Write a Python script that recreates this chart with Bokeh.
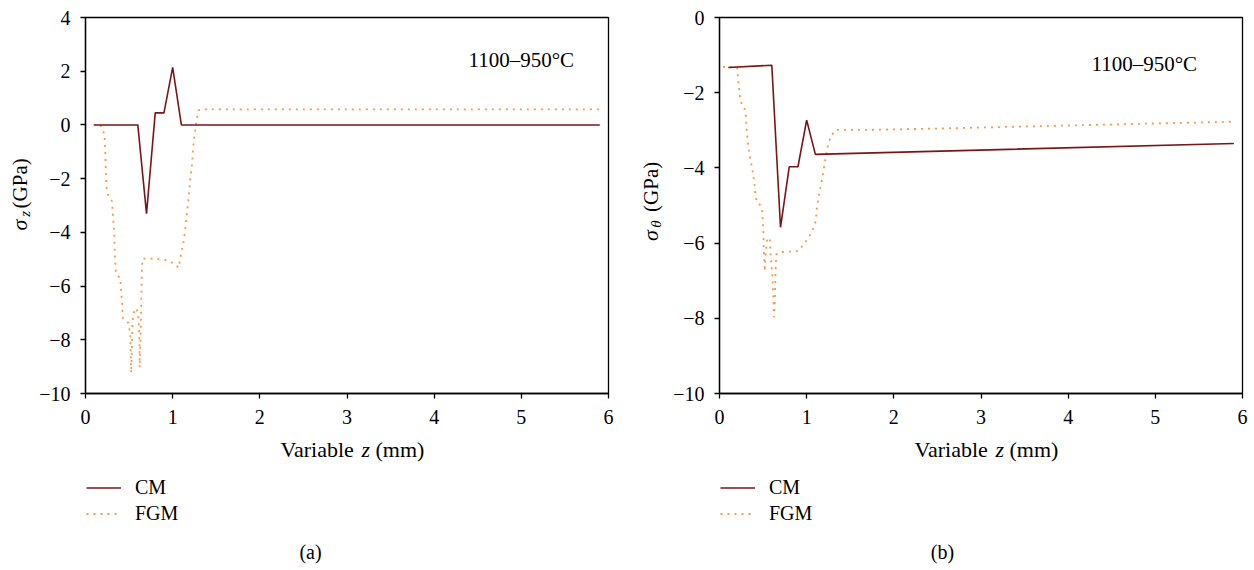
import math
import numpy as np
from bokeh.plotting import figure
from bokeh.layouts import row, column
from bokeh.models import Label, Legend, LegendItem, FixedTicker, Range1d
from bokeh.embed import file_html
from bokeh.resources import INLINE

# ---------------- data ----------------
# Panel (a): sigma_z
cm_a_x = [0.1, 0.6, 0.7, 0.8, 0.9, 1.0, 1.1, 5.9]
cm_a_y = [0.0, 0.0, -3.3, 0.45, 0.45, 2.14, 0.0, 0.0]

fgm_a_x = [0.09, 0.17, 0.218, 0.226, 0.234, 0.241, 0.264, 0.303, 0.314, 0.330, 0.337, 0.345,
           0.352, 0.398, 0.410, 0.421, 0.429, 0.494, 0.513, 0.521, 0.525, 0.540, 0.552,
           0.579, 0.602, 0.609, 0.617, 0.621, 0.621, 0.632, 0.640, 0.648, 0.655, 0.80,
           0.954, 1.031, 1.069, 1.088, 1.126, 1.146, 1.165, 1.184, 1.203, 1.222, 1.241,
           1.261, 1.280, 1.299, 1.356, 5.9]
fgm_a_y = [0.0, 0.0, -0.35, -0.91, -1.84, -2.34, -2.65, -2.84, -3.33, -4.08, -4.83, -5.32,
           -5.55, -5.70, -6.19, -6.69, -7.19, -7.38, -7.81, -8.81, -9.24, -7.31, -7.00,
           -6.82, -7.00, -7.31, -7.81, -8.56, -9.03, -7.81, -6.57, -5.32, -4.98, -4.98,
           -5.05, -5.20, -5.32, -4.95, -4.33, -3.83, -3.21, -2.71, -1.97, -1.47, -0.60,
           -0.16, 0.27, 0.55, 0.58, 0.58]

# Panel (b): sigma_theta
cm_b_x = [0.1, 0.6, 0.7, 0.8, 0.9, 1.0, 1.1, 5.9]
cm_b_y = [-1.33, -1.27, -5.58, -3.97, -3.97, -2.73, -3.64, -3.35]

fgm_b_x = [0.04, 0.203, 0.214, 0.230, 0.241, 0.268, 0.298, 0.310, 0.325, 0.344, 0.375,
           0.398, 0.413, 0.425, 0.471, 0.490, 0.502, 0.509, 0.520, 0.528, 0.547, 0.578,
           0.586, 0.605, 0.620, 0.624, 0.635, 0.643, 0.651, 0.682, 0.873, 0.911, 0.988,
           1.064, 1.103, 1.122, 1.148, 1.179, 1.210, 1.236, 1.275, 1.332, 1.677, 2.366, 5.9]
fgm_b_y = [-1.31, -1.33, -1.66, -2.02, -2.21, -2.37, -2.46, -2.95, -3.30, -3.65, -4.01,
           -4.36, -4.72, -4.89, -5.00, -5.16, -5.60, -6.31, -6.75, -6.31, -5.88, -5.87,
           -6.31, -6.84, -7.55, -7.97, -7.55, -6.75, -6.31, -6.24, -6.22, -6.20, -5.96,
           -5.69, -5.42, -4.98, -4.63, -4.27, -3.83, -3.48, -3.17, -2.99, -2.99, -2.96, -2.77]

x_ticks = [0, 1, 2, 3, 4, 5, 6]
y_ticks_a = [4, 2, 0, -2, -4, -6, -8, -10]
y_ticks_b = [0, -2, -4, -6, -8, -10]

series_names = ["CM", "FGM"]
annotation_text = "1100\u2013950\u00b0C"
captions = ["(a)", "(b)"]

# ---------------- style ----------------
FONT = "Liberation Serif"
CM_COLOR = "#7b1416"
FGM_COLOR = "#f49a4e"
FGM_DASH = "2 5"

MAIN_H = 433          # height of the plotting figure
BOTTOM_H = 137        # height of the strip below (x label, legend, caption)
FRAME_W, FRAME_H = 523, 376


def minus(s):
    return s.replace("-", "\u2212")


def lab(**kw):
    base = dict(text_font=FONT, text_color="black", text_baseline="middle",
                text_align="left")
    base.update(kw)
    return Label(**base)


def blank(w, h):
    f = figure(width=w, height=h, x_range=Range1d(0, w), y_range=Range1d(0, h),
               x_axis_location=None, y_axis_location=None, title=None,
               output_backend="svg", toolbar_location=None,
               min_border=0)
    f.grid.visible = False
    f.outline_line_color = None
    f.background_fill_color = "white"
    f.border_fill_color = "white"
    return f


def main_fig(cx, cy, fx, fy, yrange, yticks, ann_x, ann_y):
    p = figure(frame_width=FRAME_W, frame_height=FRAME_H, x_range=(0, 6), y_range=yrange,
               output_backend="svg", toolbar_location=None,
               min_border_left=47, min_border_right=10, min_border_top=17,
               min_border_bottom=MAIN_H - 17 - FRAME_H)
    p.background_fill_color = "white"
    p.border_fill_color = "white"
    p.grid.visible = False
    p.outline_line_color = "black"
    p.outline_line_width = 1.3

    for ax in (p.xaxis[0], p.yaxis[0]):
        ax.axis_line_width = 1.3
        ax.major_tick_line_width = 1.3
        ax.major_tick_in = 0
        ax.major_tick_out = 5
        ax.minor_tick_out = 0
        ax.minor_tick_in = 0
        ax.major_label_text_font = FONT
        ax.major_label_text_font_size = "20px"
        ax.major_label_text_color = "black"
    p.xaxis.ticker = FixedTicker(ticks=x_ticks)
    p.yaxis.ticker = FixedTicker(ticks=yticks)
    p.yaxis.major_label_overrides = {t: minus(str(t)) for t in yticks}
    p.xaxis.major_label_standoff = 11
    p.yaxis.major_label_standoff = 10

    p.line(fx, fy, line_color=FGM_COLOR, line_width=1.8, line_dash=FGM_DASH)
    p.line(cx, cy, line_color=CM_COLOR, line_width=1.6)

    p.add_layout(lab(x=ann_x, y=ann_y, x_units="screen", y_units="screen",
                     text=annotation_text, text_font_size="21px"))
    return p


def ylabel_fig(w, xc, sub, s_y, sub_y, gpa_y):
    f = blank(w, MAIN_H)
    rot = dict(angle=math.pi / 2, text_align="center", text_baseline="middle")
    f.add_layout(lab(x=xc, y=s_y, text="\u03c3", text_font_style="italic",
                     text_font_size="22px", **rot))
    f.add_layout(lab(x=xc + 5, y=sub_y, text=sub, text_font_style="italic",
                     text_font_size="15px", **rot))
    f.add_layout(lab(x=xc, y=gpa_y, text="(GPa)", text_font_size="21px", **rot))
    return f


def bottom_fig(w, frame_left, caption, cap_x):
    f = blank(w, BOTTOM_H)
    # x-axis title "Variable z (mm)"
    yb = 121
    x0 = frame_left + 193
    f.add_layout(lab(x=x0, y=yb, text="Variable", text_font_size="22px"))
    f.add_layout(lab(x=x0 + 81, y=yb, text="z", text_font_style="italic",
                     text_font_size="22px"))
    f.add_layout(lab(x=x0 + 95, y=yb, text="(mm)", text_font_size="22px"))

    # legend (sample renderers hold a single NaN point so nothing is drawn in the strip)
    nan = np.array([np.nan])
    r_cm = f.line(x=nan, y=nan, line_color=CM_COLOR, line_width=1.6)
    r_fgm = f.line(x=nan, y=nan, line_color=FGM_COLOR, line_width=1.8, line_dash=FGM_DASH)
    legend = Legend(items=[LegendItem(label=series_names[0], renderers=[r_cm]),
                           LegendItem(label=series_names[1], renderers=[r_fgm])],
                    location=(frame_left - 1, 45), orientation="vertical",
                    label_text_font=FONT, label_text_font_size="20px",
                    label_text_color="black", label_height=23,
                    glyph_width=35, glyph_height=23, spacing=3, label_standoff=14,
                    padding=0, margin=0,
                    border_line_alpha=0, background_fill_alpha=0)
    f.add_layout(legend, "center")

    f.add_layout(lab(x=cap_x, y=19, text=caption, text_font_size="20px",
                     text_align="center"))
    return f


# ---- panel (a) ----
ya = ylabel_fig(36, 19, "z", 194, 207, 242)
ma = main_fig(cm_a_x, cm_a_y, fgm_a_x, fgm_a_y, (-10, 4), y_ticks_a, 383, 334)
ba = bottom_fig(620, 87, captions[0], 310)
panel_a = column(row(ya, ma, spacing=0), ba, spacing=0)

# ---- panel (b) ----
yb_ = ylabel_fig(50, 30, "\u03b8", 182, 195, 238)
mb = main_fig(cm_b_x, cm_b_y, fgm_b_x, fgm_b_y, (-10, 0), y_ticks_b, 372, 330)
bb = bottom_fig(634, 101, captions[1], 322)
panel_b = column(row(yb_, mb, spacing=0), bb, spacing=0)

layout = row(panel_a, panel_b, spacing=0)
open("out.html", "w").write(file_html(layout, INLINE))
